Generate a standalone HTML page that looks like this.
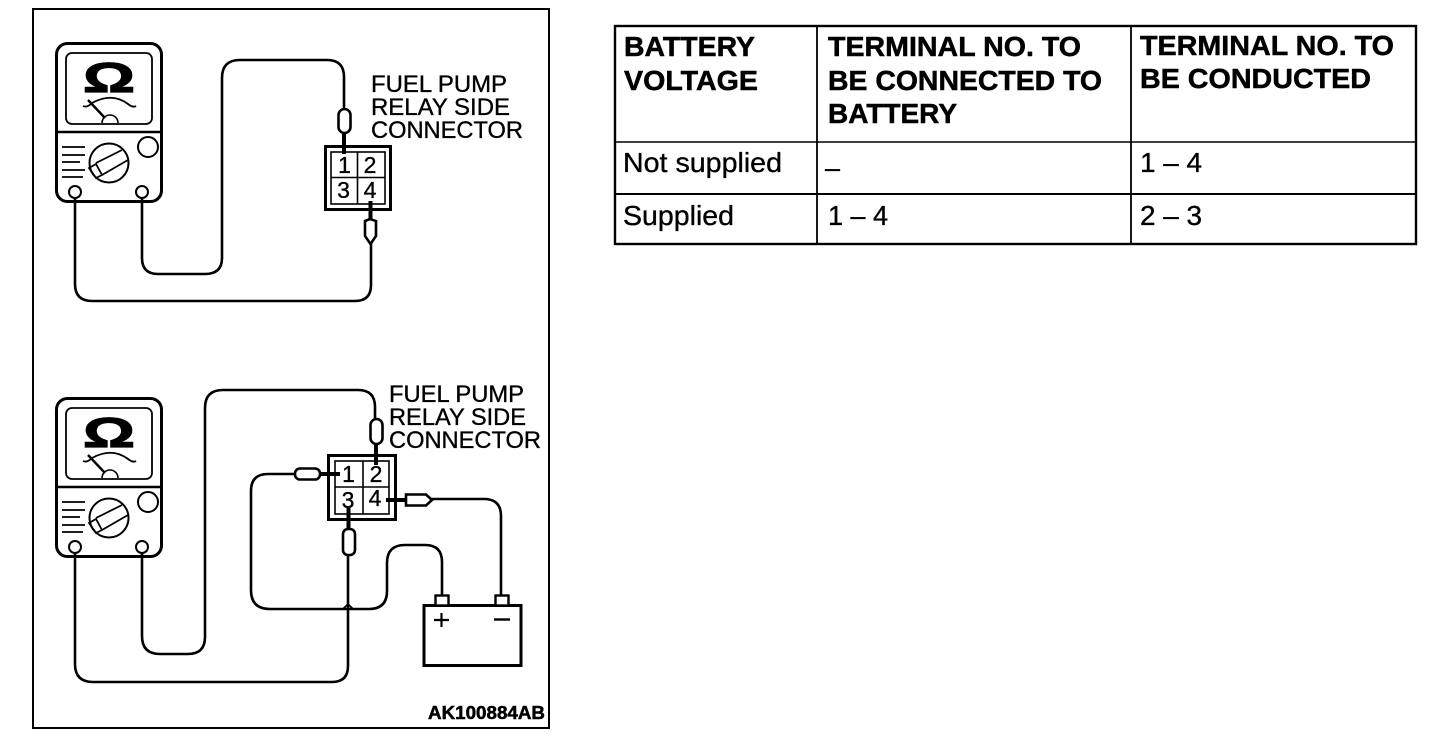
<!DOCTYPE html>
<html><head><meta charset="utf-8"><style>
html,body{margin:0;padding:0;background:#fff;width:1440px;height:744px;overflow:hidden}
svg{display:block}
text{font-family:"Liberation Sans",sans-serif;fill:#000;stroke:#000;stroke-width:.35}
.b{font-weight:bold;stroke-width:.5}
.o{stroke-width:1.2}
.w{fill:none;stroke:#000;stroke-width:2.6}
.t{fill:none;stroke:#000;stroke-width:3}
.p{fill:#fff;stroke:#000;stroke-width:2.6}
.s{fill:none;stroke:#000;stroke-width:4}
</style></head><body>
<svg width="1440" height="744" viewBox="0 0 1440 744" xmlns="http://www.w3.org/2000/svg">
<rect x="33" y="9" width="516" height="719" fill="none" stroke="#000" stroke-width="2"/>

<!-- Meter 1 -->
<g>
<rect x="56.500" y="43.500" width="105" height="158" rx="11" class="t"/>
<rect x="66" y="53" width="86" height="71" rx="6" fill="none" stroke="#000" stroke-width="1.800"/>
<text class="b o" x="83" y="92" font-size="42" textLength="52" lengthAdjust="spacingAndGlyphs">Ω</text>
<path d="M83 106Q87 108 92 103Q112 92 128 104Q133 108 136 106" fill="none" stroke="#000" stroke-width="1.800"/>
<path d="M88 100L105 118" stroke="#000" stroke-width="2.400"/>
<path d="M102 123A8 8 0 0 1 118 123" fill="none" stroke="#000" stroke-width="1.600"/>
<line x1="57" y1="132" x2="161" y2="132" stroke="#000" stroke-width="2.400"/>
<path d="M62 147H85M62 155H85M62 162H80M62 170H85M62 177H83" fill="none" stroke="#000" stroke-width="1.800"/>
<circle cx="109" cy="163" r="19.500" fill="none" stroke="#000" stroke-width="2"/>
<path d="M96 163L122 150M102 175L128 160M89 168L96 178L102 175L96 164Z" fill="none" stroke="#000" stroke-width="1.800"/>
<circle cx="148" cy="147" r="10" fill="#fff" stroke="#000" stroke-width="2"/>
<circle cx="75" cy="192" r="6" fill="#fff" stroke="#000" stroke-width="2"/>
<circle cx="142" cy="192" r="6" fill="#fff" stroke="#000" stroke-width="2"/>
</g>

<!-- Diagram 1 wires -->
<path class="w" d="M142 198V258Q142 274 158 274H205Q222 274 222 258V78Q222 60 240 60H327Q344 60 344 77V110"/>
<path class="w" d="M75 198V284Q75 301 92 301H355Q371 301 371 285V242"/>
<rect x="338.500" y="109" width="12" height="24" rx="6" class="p"/>
<path class="s" d="M344 133V154"/>
<path d="M365 221L370 219L376 221V236L370.500 244L365 236Z" class="p"/>
<path class="s" d="M370.500 201V220"/>
<rect x="325.500" y="146.500" width="65" height="63" fill="none" stroke="#000" stroke-width="3"/>
<rect x="331" y="152" width="54" height="52" fill="none" stroke="#000" stroke-width="1.600"/>
<path d="M357.500 152V204M331 177.500H385" stroke="#000" stroke-width="1.600"/>
<text x="344.500" y="173" font-size="23" text-anchor="middle">1</text>
<text x="370" y="173" font-size="23" text-anchor="middle">2</text>
<text x="343.500" y="198" font-size="23" text-anchor="middle">3</text>
<text x="370" y="198" font-size="23" text-anchor="middle">4</text>
<text x="371" y="92" font-size="24" textLength="136" lengthAdjust="spacingAndGlyphs">FUEL PUMP</text>
<text x="371" y="115" font-size="24" textLength="139" lengthAdjust="spacingAndGlyphs">RELAY SIDE</text>
<text x="371" y="138" font-size="24" textLength="152" lengthAdjust="spacingAndGlyphs">CONNECTOR</text>

<!-- Meter 2 -->
<g>
<rect x="56.500" y="398.500" width="105" height="158" rx="11" class="t"/>
<rect x="66" y="408" width="86" height="71" rx="6" fill="none" stroke="#000" stroke-width="1.800"/>
<text class="b o" x="83" y="447" font-size="42" textLength="52" lengthAdjust="spacingAndGlyphs">Ω</text>
<path d="M83 461Q87 463 92 458Q112 447 128 459Q133 463 136 461" fill="none" stroke="#000" stroke-width="1.800"/>
<path d="M88 455L105 473" stroke="#000" stroke-width="2.400"/>
<path d="M102 478A8 8 0 0 1 118 478" fill="none" stroke="#000" stroke-width="1.600"/>
<line x1="57" y1="487" x2="161" y2="487" stroke="#000" stroke-width="2.400"/>
<path d="M62 502H85M62 510H85M62 517H80M62 525H85M62 532H83" fill="none" stroke="#000" stroke-width="1.800"/>
<circle cx="109" cy="518" r="19.500" fill="none" stroke="#000" stroke-width="2"/>
<path d="M96 518L122 505M102 530L128 515M89 523L96 533L102 530L96 519Z" fill="none" stroke="#000" stroke-width="1.800"/>
<circle cx="148" cy="502" r="10" fill="#fff" stroke="#000" stroke-width="2"/>
<circle cx="75" cy="547" r="6" fill="#fff" stroke="#000" stroke-width="2"/>
<circle cx="142" cy="547" r="6" fill="#fff" stroke="#000" stroke-width="2"/>
</g>

<!-- Diagram 2 wires -->
<path class="w" d="M142 553V636Q142 654 160 654H188Q205 654 205 637V408Q205 390 223 390H358Q375 390 375 407V420"/>
<path class="w" d="M75 553V664Q75 682 93 682H332Q348 682 348 666V554"/>
<path d="M343 609L348 604L353 609" fill="none" stroke="#000" stroke-width="1.800"/>
<path class="w" d="M296 474H268Q251 474 251 491V590Q251 609 270 609H369Q387 609 387 591V563Q387 545 405 545H425Q442 545 442 562V596"/>
<path class="w" d="M431 499H484Q501 499 501 516V596"/>
<rect x="370.500" y="419" width="12" height="25" rx="6" class="p"/>
<path class="s" d="M376 444V465"/>
<rect x="295" y="468.500" width="25" height="11" rx="5" class="p"/>
<path class="s" d="M320 474H340"/>
<path d="M406 494.500H426L432 500L426 505.500H406Z" class="p"/>
<path class="s" d="M386 500H406"/>
<rect x="343" y="529" width="12" height="26" rx="5" class="p"/>
<path class="s" d="M348.500 508V529"/>
<rect x="328.500" y="455.500" width="67" height="64" fill="none" stroke="#000" stroke-width="3"/>
<rect x="335" y="461" width="54" height="53" fill="none" stroke="#000" stroke-width="1.600"/>
<path d="M363 461V514M335 487H389" stroke="#000" stroke-width="1.600"/>
<text x="348.500" y="482" font-size="23" text-anchor="middle">1</text>
<text x="376" y="482" font-size="23" text-anchor="middle">2</text>
<text x="348" y="508" font-size="23" text-anchor="middle">3</text>
<text x="375" y="506" font-size="23" text-anchor="middle">4</text>
<text x="389" y="402" font-size="24" textLength="135" lengthAdjust="spacingAndGlyphs">FUEL PUMP</text>
<text x="389" y="425" font-size="24" textLength="137" lengthAdjust="spacingAndGlyphs">RELAY SIDE</text>
<text x="389" y="448" font-size="24" textLength="152" lengthAdjust="spacingAndGlyphs">CONNECTOR</text>

<!-- Battery -->
<rect x="424" y="605.500" width="97" height="60" fill="#fff" stroke="#000" stroke-width="3"/>
<rect x="435.500" y="595.500" width="13" height="10" fill="#fff" stroke="#000" stroke-width="2.400"/>
<rect x="495.500" y="595.500" width="13" height="10" fill="#fff" stroke="#000" stroke-width="2.400"/>
<path d="M434 620H449M441.500 613V627" stroke="#000" stroke-width="2.200"/>
<path d="M494 619.500H510" stroke="#000" stroke-width="2.400"/>
<text class="b" x="428" y="719" font-size="18" textLength="117" lengthAdjust="spacingAndGlyphs">AK100884AB</text>

<!-- Table -->
<rect x="615" y="26" width="801" height="218" fill="none" stroke="#000" stroke-width="2.400"/>
<path d="M817 26V244M1131 26V244" stroke="#000" stroke-width="1.800"/>
<path d="M615 142H1416" stroke="#000" stroke-width="1.400"/>
<path d="M615 194H1416" stroke="#000" stroke-width="2"/>
<text class="b" x="624" y="56" font-size="28" textLength="131" lengthAdjust="spacingAndGlyphs">BATTERY</text>
<text class="b" x="624" y="90" font-size="28" textLength="134" lengthAdjust="spacingAndGlyphs">VOLTAGE</text>
<text class="b" x="828" y="56" font-size="28" textLength="253" lengthAdjust="spacingAndGlyphs">TERMINAL NO. TO</text>
<text class="b" x="828" y="90" font-size="28" textLength="274" lengthAdjust="spacingAndGlyphs">BE CONNECTED TO</text>
<text class="b" x="828" y="123" font-size="28" textLength="129" lengthAdjust="spacingAndGlyphs">BATTERY</text>
<text class="b" x="1140" y="55" font-size="28" textLength="254" lengthAdjust="spacingAndGlyphs">TERMINAL NO. TO</text>
<text class="b" x="1140" y="88" font-size="28" textLength="231" lengthAdjust="spacingAndGlyphs">BE CONDUCTED</text>
<text x="623" y="172" font-size="28" textLength="159" lengthAdjust="spacingAndGlyphs">Not supplied</text>
<text x="623" y="225" font-size="28" textLength="111" lengthAdjust="spacingAndGlyphs">Supplied</text>
<text x="825" y="177" font-size="27" textLength="15" lengthAdjust="spacingAndGlyphs">–</text>
<text x="828" y="225" font-size="28" textLength="60" lengthAdjust="spacingAndGlyphs">1 – 4</text>
<text x="1140" y="172" font-size="28" textLength="62" lengthAdjust="spacingAndGlyphs">1 – 4</text>
<text x="1140" y="225" font-size="28" textLength="62" lengthAdjust="spacingAndGlyphs">2 – 3</text>
</svg>
</body></html>
